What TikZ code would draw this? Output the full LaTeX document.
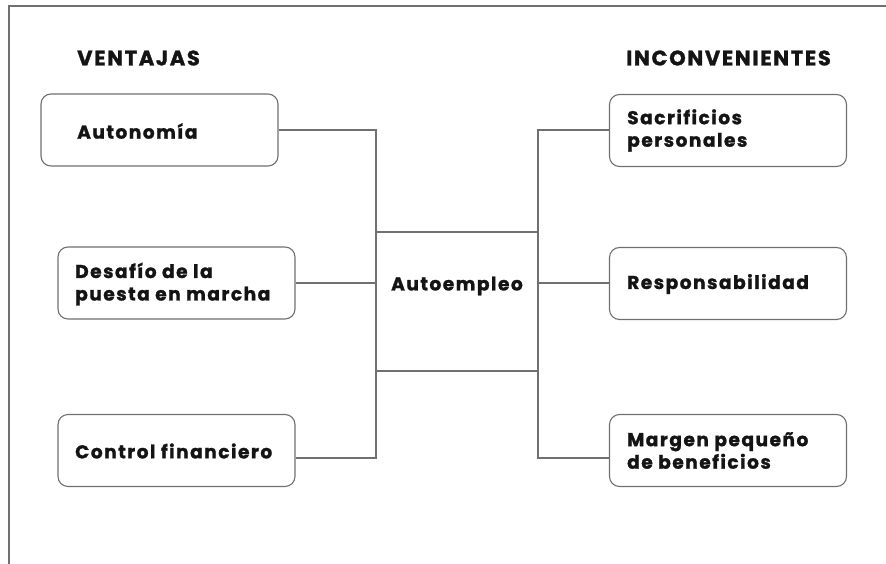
\documentclass[tikz,border=0pt]{standalone}
\usepackage{fontspec}
\setmainfont{Poppins}[BoldFont={Poppins Bold},BoldFeatures={FakeBold=1.3,LetterSpace=8}]
\definecolor{ln}{HTML}{707070}
\definecolor{tx}{HTML}{141414}
\begin{document}
\begin{tikzpicture}[x=1pt,y=-1pt,
  box/.style={draw=ln,line width=1.1pt,rounded corners=10pt,minimum width=237pt,minimum height=72pt,inner sep=0pt},
  lbl/.style={anchor=west,font=\fontsize{18.6}{22.5}\selectfont\bfseries,text=tx,align=left,inner sep=0pt},
  head/.style={font=\fontsize{21}{22}\selectfont\bfseries,text=tx,inner sep=0pt},
  wire/.style={draw=ln,line width=1.1pt}]
\useasboundingbox (0,0) rectangle (886,564);
\draw[wire] (9,564) -- (9,6) -- (886,6);
\node[head,anchor=west] (vt) at (77,58) {VENTAJAS};
\node[head,anchor=west] (in) at (626,58) {INCONVENIENTES};
% left boxes
\node[box] (b1) at (159.5,130) {};
\node[box] (b2) at (176.5,283) {};
\node[box] (b3) at (176.5,450.5) {};
\node[lbl] (t1) at (77,131) {Autonomía};
\node[lbl] (t2) at (75,284) {Desafío de la\\puesta en marcha};
\node[lbl] (t3) at (75,451) {Control financiero};
% right boxes
\node[box] (r1) at (728,130.5) {};
\node[box] (r2) at (728,283.5) {};
\node[box] (r3) at (728,450.5) {};
\node[lbl] (s1) at (627,130.5) {Sacrificios\\personales};
\node[lbl] (s2) at (627,284) {Responsabilidad};
\node[lbl] (s3) at (627,450.5) {Margen pequeño\\de beneficios};
% center
\node[head,font=\fontsize{18.6}{22}\selectfont\bfseries] (ae) at (457,286) {Autoempleo};
\coordinate (lt) at (376,130);
\coordinate (lm) at (376,283);
\coordinate (lb) at (376,458);
\coordinate (la) at (376,232);
\coordinate (lc) at (376,371);
\coordinate (rt) at (538,130);
\coordinate (rm) at (538,283);
\coordinate (rb) at (538,458);
\coordinate (ra) at (538,232);
\coordinate (rc) at (538,371);
\draw[wire] (b1.east |- lt) -- (lt) -- (lb) -- (b3.east |- lb);
\draw[wire] (b2.east |- lm) -- (lm);
\draw[wire] (la) -- (ra);
\draw[wire] (lc) -- (rc);
\draw[wire] (r1.west |- rt) -- (rt) -- (rb) -- (r3.west |- rb);
\draw[wire] (rm) -- (r2.west |- rm);
\end{tikzpicture}
\end{document}
